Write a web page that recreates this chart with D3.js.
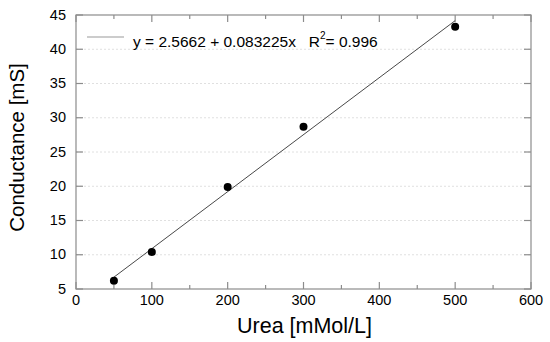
<!DOCTYPE html>
<html><head><meta charset="utf-8">
<script src="https://cdn.jsdelivr.net/npm/d3@7"></script>
<style>body{margin:0;background:#fff}svg{display:block;font-family:"Liberation Sans",Arial,sans-serif}text{white-space:pre}</style>
</head><body><svg id="c" width="550" height="342"></svg>
<script>
const ureaX = [50, 100, 200, 300, 500];
const conductanceY = [6.2, 10.4, 19.9, 28.7, 43.3];
const fitIntercept = 2.5662, fitSlope = 0.083225;
const fitRange = [50, 500];
const xTicks = [0, 100, 200, 300, 400, 500, 600];
const xMinor = [50, 150, 250, 350, 450, 550];
const yTicks = [5, 10, 15, 20, 25, 30, 35, 40, 45];
const gridY = [10, 15, 20, 25, 30, 35, 40];

const svg = d3.select("#c");
const L = 76, R = 531, T = 15, B = 289;
const x = d3.scaleLinear().domain([0, 600]).range([L, R]);
const y = d3.scaleLinear().domain([5, 45]).range([B, T]);
const axisCol = "#8c8c8c";

// grid
svg.append("g").selectAll("line").data(gridY).join("line")
  .attr("x1", L).attr("x2", R).attr("y1", d => y(d)).attr("y2", d => y(d))
  .attr("stroke", "#d8d8d8").attr("stroke-width", 0.8).attr("stroke-dasharray", "2,2");

// frame
svg.append("rect").attr("x", L).attr("y", T).attr("width", R - L).attr("height", B - T)
  .attr("fill", "none").attr("stroke", axisCol).attr("stroke-width", 1.2);

// ticks
const tk = svg.append("g").attr("stroke", axisCol).attr("stroke-width", 1.2);
xTicks.forEach(d => {
  tk.append("line").attr("x1", x(d)).attr("x2", x(d)).attr("y1", B).attr("y2", B - 7);
  tk.append("line").attr("x1", x(d)).attr("x2", x(d)).attr("y1", T).attr("y2", T + 7);
});
xMinor.forEach(d => {
  tk.append("line").attr("x1", x(d)).attr("x2", x(d)).attr("y1", B).attr("y2", B - 4);
  tk.append("line").attr("x1", x(d)).attr("x2", x(d)).attr("y1", T).attr("y2", T + 4);
});
yTicks.forEach(d => {
  tk.append("line").attr("x1", L).attr("x2", L + 7).attr("y1", y(d)).attr("y2", y(d));
  tk.append("line").attr("x1", R).attr("x2", R - 7).attr("y1", y(d)).attr("y2", y(d));
});

// tick labels
svg.append("g").selectAll("text").data(xTicks).join("text")
  .attr("x", d => x(d)).attr("y", 305).attr("text-anchor", "middle")
  .attr("font-size", 14.5).attr("fill", "#000").text(d => d);
svg.append("g").selectAll("text").data(yTicks).join("text")
  .attr("x", L - 10).attr("y", d => y(d) + 4.5).attr("text-anchor", "end")
  .attr("font-size", 14.5).attr("fill", "#000").text(d => d);

// axis titles
svg.append("text").attr("x", 304.5).attr("y", 333).attr("text-anchor", "middle")
  .attr("font-size", 21.5).attr("fill", "#000").text("Urea [mMol/L]");
svg.append("text").attr("transform", "translate(24,147.5) rotate(-90)")
  .attr("text-anchor", "middle").attr("font-size", 20.5).attr("fill", "#000").text("Conductance [mS]");

// fit line
svg.append("line")
  .attr("x1", x(fitRange[0])).attr("y1", y(fitIntercept + fitSlope * fitRange[0]))
  .attr("x2", x(fitRange[1])).attr("y2", y(fitIntercept + fitSlope * fitRange[1]))
  .attr("stroke", "#333").attr("stroke-width", 0.9);

// points
svg.append("g").selectAll("circle").data(ureaX).join("circle")
  .attr("cx", d => x(d)).attr("cy", (d, i) => y(conductanceY[i])).attr("r", 4)
  .attr("fill", "#000");

// legend
svg.append("line").attr("x1", 87).attr("x2", 124).attr("y1", 37).attr("y2", 37)
  .attr("stroke", "#999").attr("stroke-width", 1);
const lt = svg.append("text").attr("x", 133).attr("y", 47).attr("font-size", 15.5).attr("fill", "#000");
lt.append("tspan").text("y = 2.5662 + 0.083225x   R");
lt.append("tspan").attr("dy", -8).attr("font-size", 10).text("2");
lt.append("tspan").attr("dy", 8).text("= 0.996");
</script></body></html>
